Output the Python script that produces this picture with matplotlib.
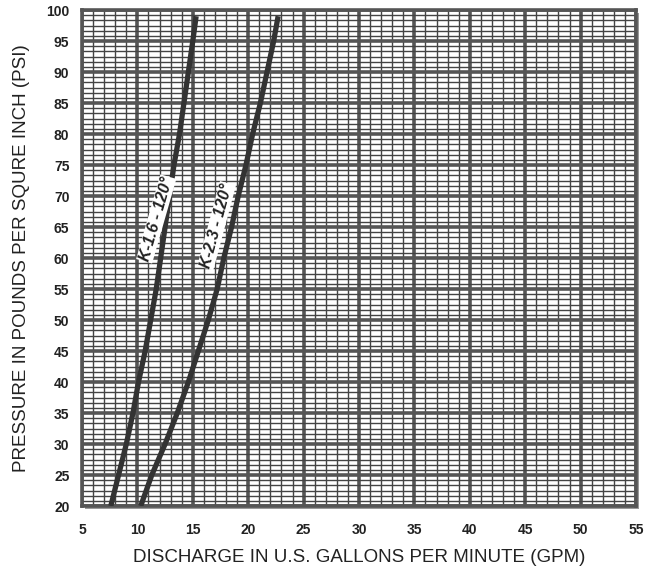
import matplotlib.pyplot as plt
from matplotlib.ticker import MultipleLocator
from matplotlib.patches import Rectangle

# pressure (psi) and discharge (gpm)
k16_psi = [20, 25, 30, 35, 40, 45, 50, 55, 60, 65, 70, 75, 80, 85, 90, 95, 99]
k16_gpm = [7.6, 8.3, 9.0, 9.6, 10.1, 10.7, 11.2, 11.7, 12.1, 12.5, 12.9,
           13.3, 13.8, 14.2, 14.6, 15.0, 15.3]
k23_psi = [20, 25, 30, 35, 40, 45, 50, 55, 60, 65, 70, 75, 80, 85, 90, 95, 99]
k23_gpm = [10.3, 11.3, 12.5, 13.6, 14.6, 15.5, 16.4, 17.2, 17.8, 18.5, 19.1,
           19.8, 20.4, 21.1, 21.7, 22.3, 22.7]
curve_labels = ["K-1.6 - 120°", "K-2.3 - 120°"]
label_pos = [(11.7, 66.3), (17.15, 65.2)]
label_rot = [74, 75]

plt.rcParams['font.family'] = ['Liberation Sans', 'DejaVu Sans']

fig = plt.figure(figsize=(6.56, 5.69), dpi=100)
ax = fig.add_axes([0.125, 0.1107, 0.8445, 0.8717])
ax.set_zorder(2)

# drop shadow behind the frame
fig.patches.append(Rectangle((0.125 + 3 / 656, 0.1107 - 3 / 569), 0.8445, 0.8717,
                             transform=fig.transFigure, facecolor='#9a9a9a',
                             edgecolor='none', zorder=-1))

ax.plot(k16_gpm, k16_psi, color='#333333', lw=3.8, solid_capstyle='butt',
        solid_joinstyle='round', zorder=3)
ax.plot(k23_gpm, k23_psi, color='#333333', lw=3.8, solid_capstyle='butt',
        solid_joinstyle='round', zorder=3)

for text, (x, y), rot in zip(curve_labels, label_pos, label_rot):
    ax.text(x, y, text, rotation=rot, rotation_mode='anchor', ha='center',
            va='center', fontsize=11.5, fontweight='bold', fontstyle='italic',
            color='#222222', zorder=4,
            bbox=dict(facecolor='white', edgecolor='none', pad=0.6))

ax.set_xlim(5, 55)
ax.set_ylim(20, 100)
ax.xaxis.set_major_locator(MultipleLocator(5))
ax.xaxis.set_minor_locator(MultipleLocator(1))
ax.yaxis.set_major_locator(MultipleLocator(5))
ax.yaxis.set_minor_locator(MultipleLocator(5 / 6))
ax.grid(which='major', color='#555555', lw=2.6)
ax.grid(which='minor', color='#444444', lw=1.0)
ax.set_axisbelow(True)
ax.tick_params(which='both', length=0)
ax.tick_params(axis='x', pad=12, labelsize=10)
ax.tick_params(axis='y', pad=9, labelsize=10)
for lab in ax.get_xticklabels() + ax.get_yticklabels():
    lab.set_fontweight('bold')
    lab.set_color('#222222')
for sp in ax.spines.values():
    sp.set_color('#555555')
    sp.set_linewidth(2.6)

ax.set_xlabel("DISCHARGE IN U.S. GALLONS PER MINUTE (GPM)", fontsize=13.5,
              color='#222222', labelpad=9)
ax.set_ylabel("PRESSURE IN POUNDS PER SQURE INCH (PSI)", fontsize=13.5,
              color='#222222', labelpad=12)

fig.savefig("out.png", dpi=100)
